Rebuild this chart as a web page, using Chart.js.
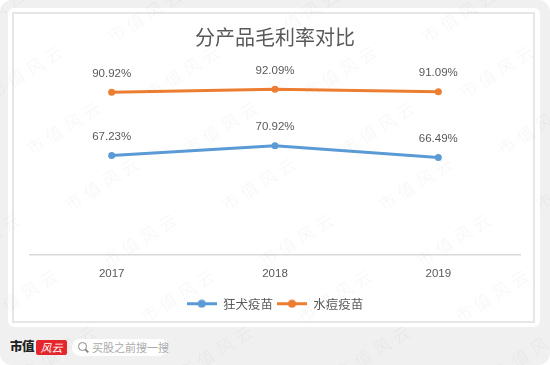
<!DOCTYPE html>
<html>
<head>
<meta charset="utf-8">
<script src="https://cdn.jsdelivr.net/npm/chart.js@4/dist/chart.umd.min.js"></script>
<style>
  html, body { margin: 0; padding: 0; background: #fff; }
  #page { position: relative; width: 550px; height: 365px; background: #f0f0f0; border-radius: 12px; overflow: hidden; font-family: "Noto Sans CJK SC", sans-serif; }
  #card { position: absolute; left: 8px; top: 8px; width: 532px; height: 319px; background: #fff; border-radius: 6px; }
  #frame { position: absolute; left: 12px; top: 12px; width: 523px; height: 311px; border: 2px solid #e6e6e6; box-sizing: border-box; }
  #chart { position: absolute; left: 13px; top: 13px; }
  #marks { position: absolute; left: 0; top: 0; width: 550px; height: 365px; pointer-events: none; }
  .wm { position: absolute; font-size: 17px; font-weight: 300; letter-spacing: 5px; color: rgba(0,0,0,0.045); transform: translate(-50%, -50%) rotate(-32deg); white-space: nowrap; }
  #brand { position: absolute; left: 10px; top: 337px; font-size: 12.5px; font-weight: 900; color: #222; line-height: 18px; letter-spacing: -0.5px; }
  #brandRed { position: absolute; left: 36px; top: 340px; width: 31px; height: 15px; background: #e5262c; border-radius: 2px; color: #fff; font-size: 11px; font-style: italic; line-height: 15px; text-align: center; }
  #search { position: absolute; left: 72px; top: 339px; width: 96px; height: 17px; background: #fff; border-radius: 9px; }
  #search .lens { position: absolute; left: 6px; top: 3px; width: 7px; height: 7px; border: 1.5px solid #888; border-radius: 50%; }
  #search .handle { position: absolute; left: 13px; top: 11px; width: 4px; height: 1.5px; background: #888; transform: rotate(45deg); }
  #search .hint { position: absolute; left: 20px; top: 0; font-size: 11px; line-height: 17px; color: #aaa; white-space: nowrap; }
</style>
</head>
<body>
<div id="page">
  <div id="card"></div>
  <div id="frame"></div>
  <canvas id="chart" width="522" height="310"></canvas>
  <div id="brand">市值</div>
  <div id="brandRed">风云</div>
  <div id="search"><div class="lens"></div><div class="handle"></div><div class="hint">买股之前搜一搜</div></div>
  <div id="marks"></div>
</div>
<script>
const years = ['2017', '2018', '2019'];
const seriesNames = ['狂犬疫苗', '水痘疫苗'];
const rabiesMargin = [67.23, 70.92, 66.49];
const varicellaMargin = [90.92, 92.09, 91.09];
const seriesColors = ['#5b9bd5', '#ed7d31'];

// line + dot symbol for the legend
function legendMark(color) {
    const c = document.createElement('canvas');
    c.width = 30;
    c.height = 9;
    const g = c.getContext('2d');
    g.strokeStyle = color;
    g.lineWidth = 3;
    g.beginPath();
    g.moveTo(0, 4.5);
    g.lineTo(30, 4.5);
    g.stroke();
    g.fillStyle = color;
    g.beginPath();
    g.arc(15, 4.5, 4, 0, Math.PI * 2);
    g.fill();
    return c;
}
const legendMarks = seriesColors.map(legendMark);

// percent labels above each point
const valueLabels = {
    id: 'valueLabels',
    afterDatasetsDraw(chart) {
        const ctx = chart.ctx;
        ctx.save();
        ctx.font = '11.5px "Liberation Sans"';
        ctx.fillStyle = '#595959';
        ctx.textAlign = 'center';
        ctx.textBaseline = 'middle';
        chart.data.datasets.forEach(function(ds, i) {
            chart.getDatasetMeta(i).data.forEach(function(pt, k) {
                ctx.fillText(ds.data[k].toFixed(2) + '%', pt.x, pt.y - 18.5);
            });
        });
        ctx.restore();
    }
};

function lineSet(label, data, color) {
    return {
        label: label,
        data: data,
        borderColor: color,
        backgroundColor: color,
        borderWidth: 3,
        pointRadius: 3.5,
        pointBorderWidth: 0,
        pointBackgroundColor: color,
        tension: 0
    };
}

new Chart(document.getElementById('chart'), {
    type: 'line',
    data: {
        labels: years,
        datasets: [
            lineSet(seriesNames[0], rabiesMargin, seriesColors[0]),
            lineSet(seriesNames[1], varicellaMargin, seriesColors[1])
        ]
    },
    options: {
        responsive: false,
        animation: false,
        layout: { padding: { left: 17, right: 15, top: 0, bottom: 3 } },
        scales: {
            x: {
                offset: true,
                grid: { display: false, drawTicks: false },
                border: { display: true, color: '#d9d9d9', width: 1.5 },
                ticks: { color: '#595959', font: { family: 'Liberation Sans', size: 11.5 }, padding: 11.5 },
                afterFit: function(scale) { scale.height = 38.5; }
            },
            y: { display: false, min: 30, max: 100 }
        },
        plugins: {
            title: {
                display: true,
                text: '分产品毛利率对比',
                color: '#595959',
                font: { family: 'Noto Sans CJK SC', size: 20, weight: 'normal' },
                padding: { top: 12.5, bottom: 18.5 }
            },
            legend: {
                position: 'bottom',
                labels: {
                    usePointStyle: true,
                    pointStyleWidth: 30,
                    padding: 4,
                    color: '#595959',
                    font: { family: 'Noto Sans CJK SC', size: 12.5 },
                    generateLabels: function(chart) {
                        const items = Chart.defaults.plugins.legend.labels.generateLabels(chart);
                        items.forEach(function(it, i) { it.pointStyle = legendMarks[i]; });
                        return items;
                    }
                }
            },
            tooltip: { enabled: false }
        }
    },
    plugins: [valueLabels]
});

// faint diagonal watermark
const marks = document.getElementById('marks');
for (let j = -4; j <= 4; j++) {
    for (let i = -2; i <= 5; i++) {
        const x = 103 + 157 * i + 38 * j;
        const y = 182 + 56 * j;
        if (x < -60 || x > 610) continue;
        const s = document.createElement('span');
        s.className = 'wm';
        s.textContent = '市值风云';
        s.style.left = x + 'px';
        s.style.top = y + 'px';
        marks.appendChild(s);
    }
}
</script>
</body>
</html>
